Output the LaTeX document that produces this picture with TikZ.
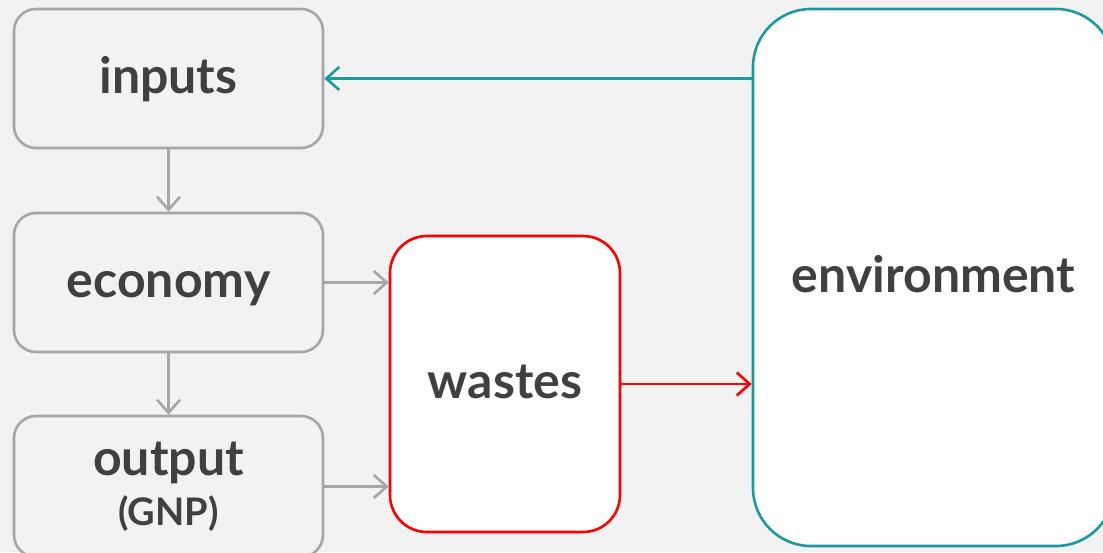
\documentclass[tikz,border=0pt]{standalone}
\usepackage{fontspec}
\setmainfont{Lato}
\usetikzlibrary{arrows.meta}
\definecolor{bgc}{HTML}{F2F2F2}
\definecolor{edgegray}{HTML}{A6A6A6}
\definecolor{txt}{HTML}{404040}
\definecolor{wasred}{HTML}{FF0000}
\definecolor{envteal}{HTML}{1A9A9E}
\tikzset{
  lbl/.style={text=txt, font=\bfseries\fontsize{50}{56}\selectfont},
  oneline/.style={text height=29pt, text depth=0pt},
  flowbox/.style={lbl, draw=edgegray, line width=2.6pt, fill=bgc, rounded corners=22pt,
    minimum width=309pt, minimum height=139pt, inner sep=0pt, align=center},
  wastebox/.style={lbl, oneline, draw=wasred, line width=2.6pt, fill=white, rounded corners=37pt,
    minimum width=230pt, minimum height=296pt, inner sep=0pt},
  envbox/.style={lbl, oneline, draw=envteal, line width=2.6pt, fill=white, rounded corners=58pt,
    minimum width=361pt, minimum height=537pt, inner sep=0pt},
  tip/.style={-{Straight Barb[length=13pt,width=23pt,line width=2.6pt]}},
  grayflow/.style={tip, draw=edgegray, line width=2.4pt},
  redflow/.style={tip, draw=wasred, line width=2.4pt},
  tealflow/.style={tip, draw=envteal, line width=2.4pt}
}
\begin{document}
\begin{tikzpicture}[x=1pt,y=-1pt]
\useasboundingbox (0,0) rectangle (1103,552);
\fill[bgc] (0,0) rectangle (1103,552);
\begin{scope}
\clip (0,0) rectangle (1103,552);
\node[flowbox, oneline] (inputs) at (168.5,78.5) {inputs};
\node[flowbox, oneline] (economy) at (168.5,282.5) {economy};
\node[flowbox, minimum height=141pt] (output) at (168.5,486.5)
  {output\\[-6pt]{\fontsize{38}{45}\selectfont (GNP)}};
\node[wastebox] (wastes) at (505,384) {wastes};
\node[envbox] (env) at (933.5,277.5) {environment};

\draw[grayflow] (inputs) -- (economy);
\draw[grayflow] (economy) -- (output);
\draw[grayflow] (economy.east) -- (economy.east -| wastes.west);
\draw[grayflow] (output.east) -- (output.east -| wastes.west);
\draw[redflow] (wastes.east) -- (wastes.east -| env.west);
\draw[tealflow] (inputs.east -| env.west) -- (inputs.east);
\end{scope}
\end{tikzpicture}
\end{document}
